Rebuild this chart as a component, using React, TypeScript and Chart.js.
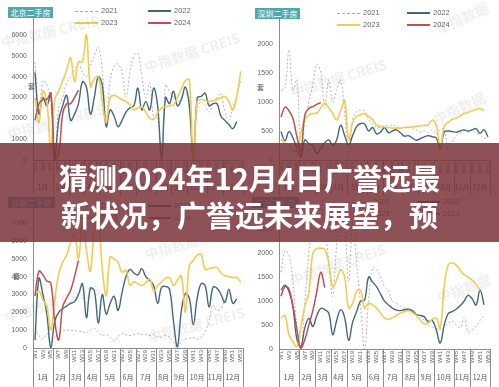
import React, { useEffect, useRef } from 'react';
import { Chart, registerables } from 'chart.js';

Chart.register(...registerables);

const WEEK_LABELS = ['W1','W2','W3','W4','W5','W6','W7','W8','W9','W10','W11','W12','W13','W14','W15','W16','W17','W18','W19','W20','W21','W22','W23','W24','W25','W26','W27','W28','W29','W30','W31','W32','W33','W34','W35','W36','W37','W38','W39','W40','W41','W42','W43','W44','W45','W46','W47','W48','W49','W50','W51','W52','W53'];
const MONTH_LABELS = ['1月','2月','3月','4月','5月','6月','7月','8月','9月','10月','11月','12月'];
const MONTH_LAST_WEEK = [5, 9, 13, 17, 22, 26, 31, 35, 39, 44, 48, 53];
const SERIES_NAMES = ['2021', '2022', '2023', '2024'];

// 北京
const BJ_2021 = [4700,2200,3800,3600,2700,300,2500,3000,3700,4000, 4300,4600,4200,4000,4500,5000,5400,4300,2000,3800, 4500,4600,4200,3000,4200,5000,5100,4000,3000,3700, 2000,2000,200,3600,3300,3000,2800,3000,3200,3000, 200,2400,2800,2600,2300,2700,3000,3200,2300,1900, 2500,3100,3850];
const BJ_2022 = [4200,2200,3000,2600,3200,0,1900,2600,3100,1900, 2200,2700,3750,3500,2200,3000,4000,3600,1600,2400, 2100,1600,1900,2300,2500,2600,3450,2400,2800,2400, 3450,2600,0,3000,2700,3300,2600,2900,3500,2600, 0,2980,3050,3200,2600,2700,2700,2100,1900,1700, 1500,1840,null];
const BJ_2023 = [3000,1800,3300,2800,600,2900,3300,3800,4300,4900, 3760,4700,4700,6000,3500,3900,4000,2800,1800,3000, 3100,3000,2900,2800,2650,2400,2500,2550,2300,2000, 1950,2250,2500,2550,2600,2650,3000,3400,3800,3850, 0,2800,2900,2850,2800,2850,2900,3000,3050,2800, 2400,3050,4250];
const BJ_2024 = [1900,2700,2900,2900,3200,0,300,2200,2700,2700,3000,3350];

// 深圳
const SZ_2021 = [1200,1250,1900,1200,1380,50,700,1000,1300,1650, 1500,900,1380,1000,1200,1380,800,50,700,830, 860,850,700,620,570,560,590,600,600,580, 550,560,580,540,520,480,500,470,520,450, 520,540,150,300,420,460,500,480,520,470, 430,380,380];
const SZ_2022 = [490,330,490,380,200,60,345,280,250,115, 200,300,345,250,350,600,420,260,420,575, 630,620,500,560,450,480,560,470,500,520, 470,410,420,380,340,370,400,420,400,380, 200,480,500,490,480,500,520,500,520,540, 460,520,400];
const SZ_2023 = [350,290,250,150,170,460,700,775,800,810, 900,980,900,800,690,850,1030,350,650,750, 780,800,750,700,600,580,570,560,550,550, 550,560,560,570,580,590,600,600,690,600, 230,575,650,700,720,760,800,820,850,870, 890,850,null];
const SZ_2024 = [740,910,850,720,400,150,780,890,920,960,990];

// 成都
const CD_2021 = [1100,700,500,800,300,600,800,950,1000,1000, 950,950,900,850,1000,1100,900,700,750,600, 400,650,800,750,700,750,800,750,750,700, 750,650,600,700,600,300,0,400,500,550, 600,500,600,900,1500,2400,2100,2200,2700,3100, null,null,null];
const CD_2022 = [440,3900,3000,1900,0,1500,2000,2200,2350,2500, 2600,3000,3600,1700,3350,3200,1400,3000,1900,2500, 2900,2100,3100,4000,4400,4200,4100,4450,4000,3780, 3500,2500,3400,3450,3300,1500,70,2100,3050,2800, 1300,2800,3600,3500,2300,3400,3350,3000,2550,3300, 2500,2750,null];
const CD_2023 = [2940,3200,2700,2300,1000,2700,4150,4800,5200,5900, 6400,5000,7000,5500,4300,6600,7200,4500,2940,5100, 5000,4800,4250,4350,3500,3700,3600,3500,3650,3870, 3200,3500,3700,3900,3950,3500,3800,4050,2000,4600, 4900,5200,5250,4400,4450,4500,4500,4200,4050,4000, 3950,3950,3680];
const CD_2024 = [2900,4300,4100,3750,3650,1500,450,2300,2800,3220,4000,4900];

// 广州
const GZ_2021 = [1600,2050,1950,1400,460,0,1000,2000,2800,3000, 3000,2600,1800,1100,2200,3000,2600,1400,2600,1800, 900,0,1000,1700,1650,1500,1300,1200,1000,950, 900,850,830,800,700,670,600,500,450,430, 400,450,540,580,500,450,650,360,400,470, 600,700,null];
const GZ_2022 = [1230,1330,1200,880,200,50,450,640,470,700, 850,820,750,300,600,820,650,180,560,780, 1000,1020,1500,1400,1300,1150,1000,920,850,810, 800,820,830,800,720,700,670,570,600,400, 125,500,740,780,830,900,1000,1120,1050,920, 1230,920,null];
const GZ_2023 = [640,700,300,150,50,450,900,1160,2000,2100, 2100,2080,1800,1300,1450,1650,1500,850,950,1200, 1220,850,950,920,850,750,650,620,650,700, 750,780,800,760,700,600,520,540,620,640, 430,1300,1750,1800,1750,1650,1550,1500,1440,1350, 1230,null,null];
const GZ_2024 = [1100,1300,1250,900,400,0,200,500,800,1200,1600,1280];

const COLORS = ['#b4b4b4', '#42687d', '#f2cb52', '#c14f50'];
const FONT = '"Liberation Sans", Arial, sans-serif';
const CJK = '"Noto Sans CJK SC", "Noto Sans", sans-serif';

const PANELS = [
  { title: '北京二手房', x: 0, y: 0, w: 250, h: 195, yMax: 7000, yShowMax: 6000, yStep: 1000, padTop: 14, padRight: 7, padBottom: 15, yWidth: 33, monthY: 7.5,
    series: [BJ_2021, BJ_2022, BJ_2023, BJ_2024], box: [8, 7, 45, 11], legend: [75, 11, 73, 12], unit: [28, 82] },
  { title: '深圳二手房', x: 250, y: 0, w: 249, h: 195, yMax: 2500, yShowMax: 2000, yStep: 500, padTop: 15, padRight: 9, padBottom: 15, yWidth: 29, monthY: 7.5,
    series: [SZ_2021, SZ_2022, SZ_2023, SZ_2024], box: [255, 8, 45, 11], legend: [337, 13, 70, 12], unit: [257, 83] },
  { title: '成都二手房', x: 0, y: 195, w: 250, h: 192, yMax: 8000, yShowMax: 8000, yStep: 1000, padTop: 9, padRight: 7, padBottom: 19, yWidth: 33, monthY: 9.5,
    series: [CD_2021, CD_2022, CD_2023, CD_2024], box: [8, 197, 47, 11], legend: [75, 206, 73, 12], unit: [13, 272] },
  { title: '广州二手房', x: 250, y: 195, w: 249, h: 192, yMax: 3000, yShowMax: 3000, yStep: 500, padTop: 10, padRight: 9, padBottom: 18, yWidth: 29, monthY: 9.5,
    series: [GZ_2021, GZ_2022, GZ_2023, GZ_2024], box: [252, 197, 47, 11], legend: [347, 202, 70, 12], unit: [0, 0] },
];

const monthPlugin = {
  id: 'monthRow',
  afterDraw(chart: any, _args: any, opts: any) {
    const { ctx, chartArea } = chart;
    const xs = chart.scales.x;
    const half = (xs.getPixelForValue(1) - xs.getPixelForValue(0)) / 2;
    const bounds = [xs.getPixelForValue(0) - half];
    MONTH_LAST_WEEK.forEach((w) => bounds.push(xs.getPixelForValue(w - 1) + half));
    ctx.save();
    ctx.strokeStyle = '#8c8c8c';
    ctx.lineWidth = 1;
    bounds.forEach((b) => {
      const px = Math.round(b) + 0.5;
      ctx.beginPath();
      ctx.moveTo(px, chartArea.bottom);
      ctx.lineTo(px, chart.height);
      ctx.stroke();
    });
    ctx.fillStyle = '#555';
    ctx.font = '7px ' + CJK;
    ctx.textAlign = 'center';
    ctx.textBaseline = 'middle';
    MONTH_LABELS.forEach((m, k) => {
      ctx.fillText(m, (bounds[k] + bounds[k + 1]) / 2, chart.height - opts.y);
    });
    ctx.restore();
  },
};

function Panel({ p }: { p: any }) {
  const ref = useRef<HTMLCanvasElement | null>(null);
  useEffect(() => {
    if (!ref.current) return;
    const widths = [1, 1.4, 1.6, 1.5];
    const chart = new Chart(ref.current, {
      type: 'line',
      data: {
        labels: WEEK_LABELS,
        datasets: p.series.map((s: any, k: number) => ({
          label: SERIES_NAMES[k],
          data: s,
          borderColor: COLORS[k],
          borderWidth: widths[k],
          borderDash: k === 0 ? [2, 2] : [],
          pointRadius: 0,
          tension: 0.4,
          fill: false,
          order: 4 - k,
        })),
      },
      options: {
        responsive: false,
        animation: false,
        devicePixelRatio: 1,
        layout: { padding: { top: p.padTop, right: p.padRight, left: 0, bottom: p.padBottom } },
        plugins: { legend: { display: false }, tooltip: { enabled: false }, monthRow: { y: p.monthY } } as any,
        scales: {
          x: {
            type: 'category',
            offset: true,
            grid: { display: false, drawTicks: false },
            border: { display: true, color: '#8c8c8c', width: 1 },
            ticks: {
              autoSkip: false,
              minRotation: 90,
              maxRotation: 90,
              padding: 2,
              color: '#666',
              font: { size: 6, family: FONT },
              callback: (_v: any, i: number) => (i % 2 === 0 ? WEEK_LABELS[i] : ''),
            },
            afterFit: (s: any) => { s.height = 20; },
          },
          y: {
            type: 'linear',
            min: 0,
            max: p.yMax,
            grid: { display: false, drawTicks: false },
            border: { display: true, color: '#8c8c8c', width: 1 },
            ticks: {
              stepSize: p.yStep,
              autoSkip: false,
              padding: 6,
              color: '#666',
              font: { size: 7, family: FONT },
              callback: (v: any) => (Number(v) <= p.yShowMax ? String(v) : ''),
            },
            afterFit: (s: any) => { s.width = p.yWidth; },
          },
        },
      },
      plugins: [monthPlugin],
    } as any);
    return () => chart.destroy();
  }, []);
  return (
    <canvas
      ref={ref}
      width={p.w}
      height={p.h}
      style={{ position: 'absolute', left: p.x, top: p.y, width: p.w, height: p.h }}
    />
  );
}

function Legend({ p }: { p: any }) {
  const [x0, y0, dx, dy] = p.legend;
  const pos = [[x0, y0], [x0 + dx, y0], [x0, y0 + dy], [x0 + dx, y0 + dy]];
  return (
    <>
      {SERIES_NAMES.map((n, k) => (
        <div key={n} style={{ position: 'absolute', left: pos[k][0], top: pos[k][1] - 5, height: 10, display: 'flex', alignItems: 'center' }}>
          <div style={{ width: 23, height: 0, borderTop: k === 0 ? '1px dashed #aaa' : `2px solid ${COLORS[k]}` }} />
          <span style={{ marginLeft: 3, fontSize: 7.5, color: '#666', fontFamily: FONT, lineHeight: '10px' }}>{n}</span>
        </div>
      ))}
    </>
  );
}

const WATERMARKS: [string, number, number, number][] = [
  ['中指数据 CREIS', 3, 50, -13], ['中指数据 CREIS', 147, 75, -18], ['中指数据 CREIS', 10, 142, -15],
  ['中指数据', 440, 37, -25], ['中指数据 CREIS', 293, 100, -17], ['中指数据', 437, 127, -25],
  ['中指数据 CREIS', 147, 262, -16], ['中指数据 CREIS', 7, 325, -17], ['中指数据 CREIS', 150, 345, -15],
  ['中指数据', 447, 215, -20], ['中指数据 CREIS', 293, 288, -19], ['中指数据', 440, 305, -20],
];

export default function App() {
  return (
    <div style={{ position: 'fixed', left: 0, top: 0, width: 499, height: 387, background: '#fff', overflow: 'hidden' }}>
      {PANELS.map((p, i) => <Panel key={i} p={p} />)}
      {PANELS.map((p, i) => (
        <div key={'b' + i} style={{ position: 'absolute', left: p.box[0], top: p.box[1], width: p.box[2], height: p.box[3], background: '#52a7ad', color: '#fff', fontSize: 8, fontFamily: CJK, lineHeight: p.box[3] + 'px', textAlign: 'center' }}>{p.title}</div>
      ))}
      {PANELS.map((p, i) => <Legend key={'l' + i} p={p} />)}
      {PANELS.filter((p) => p.unit[0] > 0).map((p, i) => (
        <div key={'u' + i} style={{ position: 'absolute', left: p.unit[0], top: p.unit[1], fontSize: 7, color: '#555', fontFamily: CJK, lineHeight: '8px' }}>套</div>
      ))}
      {WATERMARKS.map(([t, x, y, a], i) => (
        <div key={'w' + i} style={{ position: 'absolute', left: x, top: y - 15, fontSize: 14, fontWeight: 700, lineHeight: '15px', whiteSpace: 'nowrap', color: 'rgba(120,120,120,0.12)', fontFamily: CJK, transform: `rotate(${a}deg)`, transformOrigin: 'left bottom', pointerEvents: 'none' }}>{t}</div>
      ))}
      <div style={{ position: 'absolute', left: 0, top: 143, width: 499, height: 99, background: 'rgba(122,50,59,0.85)' }} />
      <div style={{ position: 'absolute', left: 0, top: 159, width: 499, textAlign: 'center', color: '#fff', fontFamily: CJK, fontWeight: 700, fontSize: 29, lineHeight: '37px', whiteSpace: 'nowrap' }}>
        <div>猜测2024年12月4日广誉远最</div>
        <div>新状况，广誉远未来展望，预</div>
      </div>
    </div>
  );
}
